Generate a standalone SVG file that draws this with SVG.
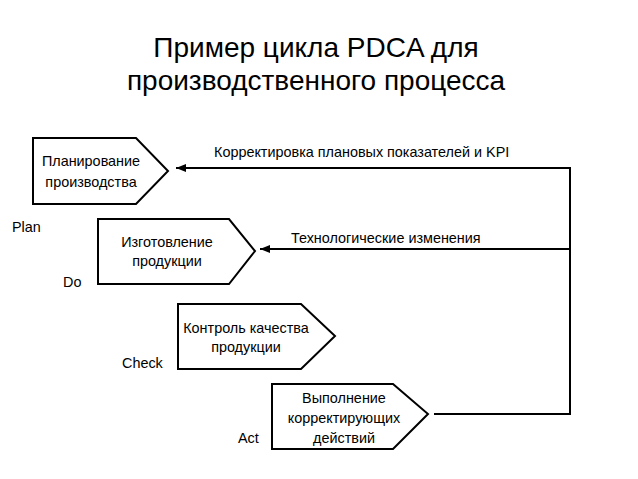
<svg xmlns="http://www.w3.org/2000/svg" width="638" height="479" viewBox="0 0 638 479">
<defs>
<style>
.title{font-family:"Liberation Sans",Arial,sans-serif;font-size:28px;fill:#000;text-anchor:middle}
.t{font-family:"Liberation Sans",Arial,sans-serif;font-size:14.4px;fill:#000}
.c{text-anchor:middle}
.box{fill:#fff;stroke:#000;stroke-width:2;stroke-linejoin:miter}
.ln{fill:none;stroke:#000;stroke-width:2}
</style>
<marker id="ah" viewBox="0 0 10 10" refX="10" refY="5" markerWidth="5" markerHeight="5" orient="auto" markerUnits="strokeWidth">
<path d="M0,1 L10,5 L0,9 z" fill="#000"/>
</marker>
</defs>
<rect width="638" height="479" fill="#fff"/>
<text class="title" x="316" y="57">Пример цикла PDCA для</text>
<text class="title" x="316" y="90">производственного процесса</text>

<g id="plan">
<polygon class="box" points="33,138 136,138 168,171 136,204 33,204"/>
<text class="t c" x="91" y="166">Планирование</text>
<text class="t c" x="91" y="187">производства</text>
<text class="t" x="12" y="232">Plan</text>
</g>
<g id="do">
<polygon class="box" points="98,219 229,219 255,251 229,284 98,284"/>
<text class="t c" x="167" y="247">Изготовление</text>
<text class="t c" x="167" y="266">продукции</text>
<text class="t" x="63" y="287">Do</text>
</g>
<g id="check">
<polygon class="box" points="178,304 301,304 335,336 301,369 178,369"/>
<text class="t c" x="246" y="333">Контроль качества</text>
<text class="t c" x="246" y="352">продукции</text>
<text class="t" x="122" y="368">Check</text>
</g>
<g id="act">
<polygon class="box" points="272,384 393,384 428,414 393,449 272,449"/>
<text class="t c" x="344" y="403">Выполнение</text>
<text class="t c" x="344" y="423">корректирующих</text>
<text class="t c" x="344" y="443">действий</text>
<text class="t" x="238" y="443">Act</text>
</g>
<g id="connectors">
<polyline class="ln" points="434,414 570,414 570,168 176,168" marker-end="url(#ah)"/>
<line class="ln" x1="570" y1="249" x2="260" y2="249" marker-end="url(#ah)"/>
<text class="t" x="214" y="157">Корректировка плановых показателей и KPI</text>
<text class="t" x="291" y="243">Технологические изменения</text>
</g>
</svg>
